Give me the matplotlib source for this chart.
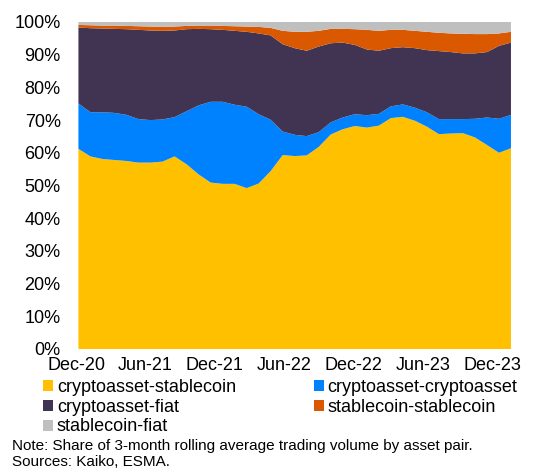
import numpy as np
import matplotlib
matplotlib.use("Agg")
import matplotlib.pyplot as plt

plt.rcParams['font.family'] = ['Liberation Sans', 'DejaVu Sans']

# monthly points, Dec-20 .. Dec-23 (shares in %)
months = ['Dec-20', 'Jan-21', 'Feb-21', 'Mar-21', 'Apr-21', 'May-21', 'Jun-21', 'Jul-21',
          'Aug-21', 'Sep-21', 'Oct-21', 'Nov-21', 'Dec-21', 'Jan-22', 'Feb-22', 'Mar-22',
          'Apr-22', 'May-22', 'Jun-22', 'Jul-22', 'Aug-22', 'Sep-22', 'Oct-22', 'Nov-22',
          'Dec-22', 'Jan-23', 'Feb-23', 'Mar-23', 'Apr-23', 'May-23', 'Jun-23', 'Jul-23',
          'Aug-23', 'Sep-23', 'Oct-23', 'Nov-23', 'Dec-23']

crypto_stable = [61.2, 58.9, 58.1, 57.8, 57.5, 57.0, 57.0, 57.3, 58.9, 56.5, 53.4, 50.9,
                 50.5, 50.5, 49.2, 50.6, 54.4, 59.3, 59.0, 59.2, 61.8, 65.6, 67.2, 68.2,
                 67.7, 68.3, 70.6, 71.0, 69.8, 68.0, 65.7, 65.9, 66.0, 64.7, 62.4, 60.0, 61.4]
crypto_crypto = [13.9, 13.5, 14.3, 14.4, 14.1, 13.3, 13.0, 12.9, 12.0, 16.2, 21.1, 24.7,
                 25.1, 24.2, 24.9, 21.2, 15.7, 7.2, 6.5, 5.9, 4.5, 3.7, 3.6, 3.6,
                 3.8, 3.6, 3.6, 3.8, 4.0, 4.4, 4.6, 4.4, 4.3, 5.7, 8.4, 10.4, 10.2]
crypto_fiat = [23.2, 25.7, 25.6, 25.7, 26.2, 27.3, 27.4, 27.1, 26.5, 25.1, 23.4, 22.2,
               22.0, 22.6, 22.9, 24.7, 25.8, 26.7, 26.5, 26.1, 26.2, 24.2, 22.9, 21.2,
               20.1, 19.3, 17.8, 17.5, 18.2, 19.0, 20.8, 20.5, 20.1, 20.0, 20.0, 22.3, 22.1]
stable_stable = [0.8, 0.9, 0.9, 1.0, 1.0, 1.1, 1.2, 1.2, 1.2, 1.0, 1.0, 1.1,
                 1.2, 1.4, 1.6, 2.0, 2.3, 4.1, 5.0, 5.8, 4.8, 4.4, 4.2, 4.8,
                 6.0, 6.1, 5.6, 5.3, 5.3, 5.6, 5.6, 5.7, 6.0, 5.9, 5.5, 3.8, 3.3]
stable_fiat = [0.9, 1.0, 1.1, 1.1, 1.2, 1.3, 1.4, 1.5, 1.4, 1.2, 1.1, 1.1,
               1.2, 1.3, 1.4, 1.5, 1.8, 2.7, 3.0, 3.0, 2.7, 2.1, 2.1, 2.2,
               2.4, 2.7, 2.4, 2.4, 2.7, 3.0, 3.3, 3.5, 3.6, 3.7, 3.7, 3.5, 3.0]

labels = ['cryptoasset-stablecoin', 'cryptoasset-cryptoasset', 'cryptoasset-fiat',
          'stablecoin-stablecoin', 'stablecoin-fiat']
colors = ['#FFC000', '#0082FF', '#403452', '#DA5800', '#BFBFBF']
tick_labels = ['Dec-20', 'Jun-21', 'Dec-21', 'Jun-22', 'Dec-22', 'Jun-23', 'Dec-23']

x = np.arange(len(months))

fig = plt.figure(figsize=(5.43, 4.68), dpi=100)
ax = fig.add_axes([0.140, 0.2543, 0.801, 0.6987])

polys = ax.stackplot(x, crypto_stable, crypto_crypto, crypto_fiat, stable_stable, stable_fiat,
                     colors=colors, labels=labels, linewidth=0)

ax.set_xlim(0, len(months) - 1)
ax.set_ylim(0, 100)
ax.set_yticks(np.arange(0, 101, 10))
ax.set_yticklabels(['%d%%' % v for v in range(0, 101, 10)])
# the original's date labels sit a little left of the monthly points
ax.set_xticks(np.arange(len(tick_labels)) * 5.78 - 0.2)
ax.set_xticklabels(tick_labels)
ax.tick_params(axis='y', length=0, pad=11, labelsize=13)
ax.tick_params(axis='x', length=0, pad=6, labelsize=13)
for s in ax.spines.values():
    s.set_visible(False)

# legend order column-wise so rows read like the original
order = [0, 2, 4, 1, 3]
fig.legend([polys[i] for i in order], [labels[i] for i in order],
           loc='upper left', bbox_to_anchor=(0.080, 0.190), ncol=2, frameon=False,
           fontsize=13, handlelength=0.55, handleheight=0.55, handletextpad=0.2,
           columnspacing=4.3, labelspacing=0.15, borderpad=0, borderaxespad=0)

fig.text(0.022, 1 - 446 / 468, 'Note: Share of 3-month rolling average trading volume by asset pair.',
         fontsize=11, va='center', ha='left')
fig.text(0.022, 1 - 462.5 / 468, 'Sources: Kaiko, ESMA.', fontsize=11, va='center', ha='left')

fig.savefig('out.png', dpi=100)
